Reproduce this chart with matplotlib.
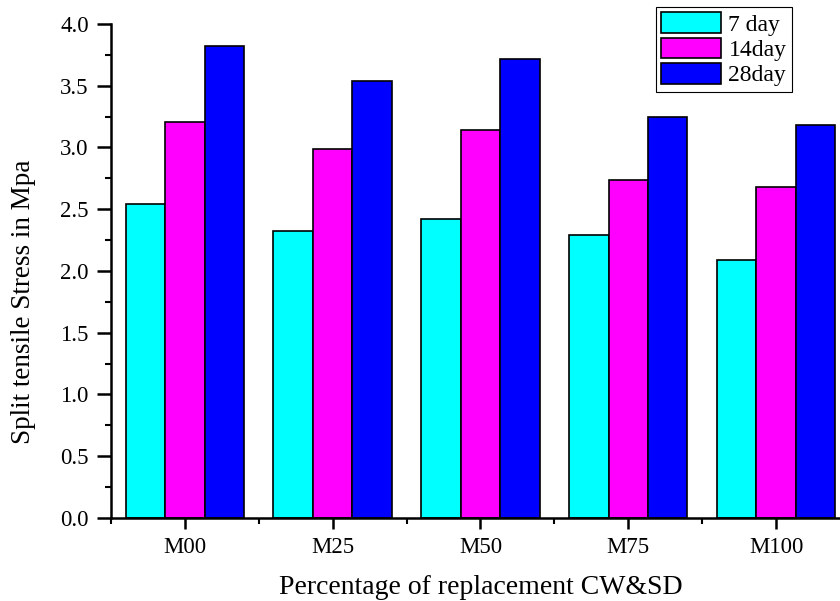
import numpy as np
import matplotlib
matplotlib.use("Agg")
import matplotlib.pyplot as plt
from matplotlib.ticker import MultipleLocator, FixedLocator, FormatStrFormatter

plt.rcParams['font.family'] = ['Liberation Serif', 'DejaVu Serif']

categories = ["M00", "M25", "M50", "M75", "M100"]
day7 = [2.54, 2.32, 2.42, 2.29, 2.09]
day14 = [3.21, 2.99, 3.14, 2.74, 2.68]
day28 = [3.82, 3.54, 3.72, 3.25, 3.18]
series_labels = ["7 day", "14day", "28day"]
colors = ["#00FFFF", "#FF00FF", "#0000FF"]

fig = plt.figure(figsize=(8.4, 6.01), dpi=100)
ax = fig.add_axes([0.1321, 0.1381, 0.8798, 0.8220])

x = np.arange(len(categories))
w = 0.267
for i, (vals, lab, col) in enumerate(zip([day7, day14, day28], series_labels, colors)):
    ax.bar(x + (i - 1) * w, vals, width=w, color=col, edgecolor="black",
           linewidth=1.2, label=lab)

ax.set_xlim(-0.5, 4.5)
ax.set_ylim(0, 4.0)
ax.set_xticks(x)
ax.set_xticklabels(categories)
ax.xaxis.set_minor_locator(FixedLocator(np.arange(-0.5, 4.6, 1.0)))
ax.yaxis.set_major_locator(MultipleLocator(0.5))
ax.yaxis.set_minor_locator(MultipleLocator(0.25))
ax.yaxis.set_major_formatter(FormatStrFormatter('%.1f'))

for s in ["top", "right"]:
    ax.spines[s].set_visible(False)
for s in ["left", "bottom"]:
    ax.spines[s].set_linewidth(1.8)

ax.tick_params(axis="both", which="major", direction="out", length=8, width=1.8,
               labelsize=16.5, pad=6)
ax.tick_params(axis="y", which="major", length=10)
ax.tick_params(axis="both", which="minor", direction="out", length=4, width=1.5)

ax.set_xlabel("Percentage of replacement CW&SD", fontsize=20, labelpad=12)
ax.set_ylabel("Split tensile Stress in Mpa", fontsize=19.5)
ax.yaxis.set_label_coords(-0.102, 0.437)

leg = ax.legend(loc="upper left", bbox_to_anchor=(0.7375, 1.0344),
                fontsize=17, frameon=True, fancybox=False, framealpha=1,
                edgecolor="black", borderpad=0.22, labelspacing=0.08,
                handlelength=2.55, handleheight=0.98, handletextpad=0.3,
                borderaxespad=0.0)
leg.get_frame().set_linewidth(0.8)

fig.savefig("out.png", dpi=100)
